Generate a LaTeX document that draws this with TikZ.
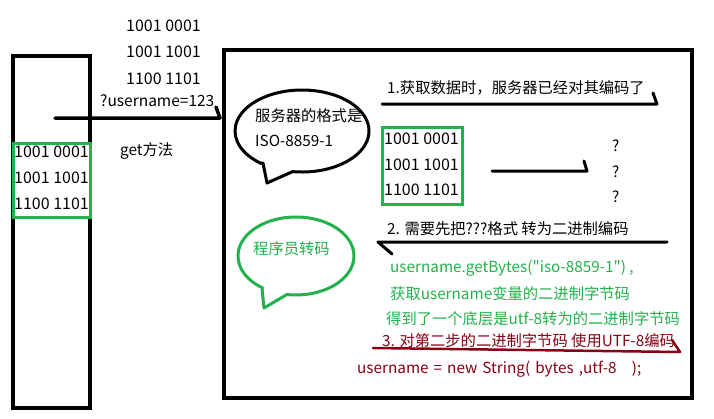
\documentclass[tikz,border=0pt]{standalone}
\usepackage{fontspec}
\newfontfamily\cjk{Noto Sans CJK SC}
\definecolor{pgreen}{RGB}{34,177,76}
\definecolor{pred}{RGB}{136,0,21}
\begin{document}
\begin{tikzpicture}[x=1pt,y=-1pt,
  txt/.style={anchor=west,inner sep=0pt,font=\cjk\fontsize{15.3}{18}\selectfont},
  bin/.style={anchor=west,inner sep=0pt,font=\cjk\fontsize{16}{18}\selectfont},
  thick line/.style={line width=3.5pt},
  hookline/.style={line width=3.5pt,line cap=round,line join=round},
  gbox/.style={draw=pgreen,line width=3pt},
  bubble/.style={line width=3pt,line join=round}]
\useasboundingbox (0,0) rectangle (714,418);
\fill[white] (0,0) rectangle (714,418);
% left client box
\draw[thick line] (13,56) rectangle (90,408);
\draw[gbox,fill=white] (13,143) rectangle (90,217);
\node[bin] (l1) at (14,152) {1001 0001};
\node[bin] (l2) at (14,178) {1001 1001};
\node[bin] (l3) at (14,204) {1100 1101};
% top labels
\node[bin] (t1) at (126,26) {1001 0001};
\node[bin] (t2) at (126,52) {1001 1001};
\node[bin] (t3) at (126,79) {1100 1101};
\node[txt,font=\cjk\fontsize{15.5}{18}\selectfont] (t4) at (100,101) {?username=123};
\node[txt] (get) at (120,151) {get方法};
% arrow client -> server
\coordinate (a1s) at (55,118);
\coordinate (a1e) at (220,118);
\draw[hookline] (a1s) -- (a1e) -- ++(-4,-11);
% server box
\draw[thick line] (224,50) rectangle (692,398);
% black bubble (centre 302,131)
\draw[bubble,fill=white] (263,163) -- (267,183) -- (292.7,171.6)
  arc[start angle=98,end angle=-232,x radius=67,y radius=41] -- cycle;
\node[txt] (b1) at (255,116) {服务器的格式是};
\node[txt] (b2) at (255,141) {ISO-8859-1};
% step 1
\node[txt] (s1) at (387,88) {1.获取数据时，服务器已经对其编码了};
\coordinate (a2s) at (382,104);
\coordinate (a2e) at (657,104);
\draw[hookline,line width=3pt] (a2s) -- (a2e) -- ++(-4,-11);
\draw[gbox] (382,127) rectangle (462,204);
\node[bin] (m1) at (384,139) {1001 0001};
\node[bin] (m2) at (384,165) {1001 1001};
\node[bin] (m3) at (384,190) {1100 1101};
\coordinate (a3s) at (492,171);
\coordinate (a3e) at (587,171);
\draw[hookline,line width=3pt] (a3s) -- (a3e) -- ++(-3,-10);
\node[txt] (q1) at (612,146) {?};
\node[txt] (q2) at (612,172) {?};
\node[txt] (q3) at (612,197) {?};
% green bubble (centre 296,256)
\draw[bubble,draw=pgreen,fill=white] (262,288) -- (264,308) -- (286.9,294.5)
  arc[start angle=99,end angle=-235,x radius=58,y radius=39] -- cycle;
\node[txt,text=pgreen] (g0) at (253,249) {程序员转码};
% step 2
\node[txt] (s2) at (387,229) {2. 需要先把???格式 转为二进制编码};
\coordinate (a4s) at (667,242);
\coordinate (a4e) at (378,242);
\draw[hookline,line width=3pt] (a4s) -- (a4e) -- ++(14,12);
\node[txt,text=pgreen] (g1) at (390,268) {username.getBytes("iso-8859-1") ,};
\node[txt,text=pgreen] (g2) at (390,294) {获取username变量的二进制字节码};
\node[txt,text=pgreen] (g3) at (386,319) {得到了一个底层是utf-8转为的二进制字节码};
% step 3
\node[txt,text=pred] (s3) at (382,341) {3. 对第二步的二进制字节码 使用UTF-8编码};
\coordinate (a5s) at (373,348);
\coordinate (a5e) at (680,352);
\draw[hookline,line width=2.5pt,draw=pred] (a5s) -- (a5e) -- ++(-8,-12);
\node[txt,text=pred] (code) at (357,369) {\spaceskip=0.33em\relax username = new String( bytes ,utf-8\ \ \ );};
\end{tikzpicture}
\end{document}
